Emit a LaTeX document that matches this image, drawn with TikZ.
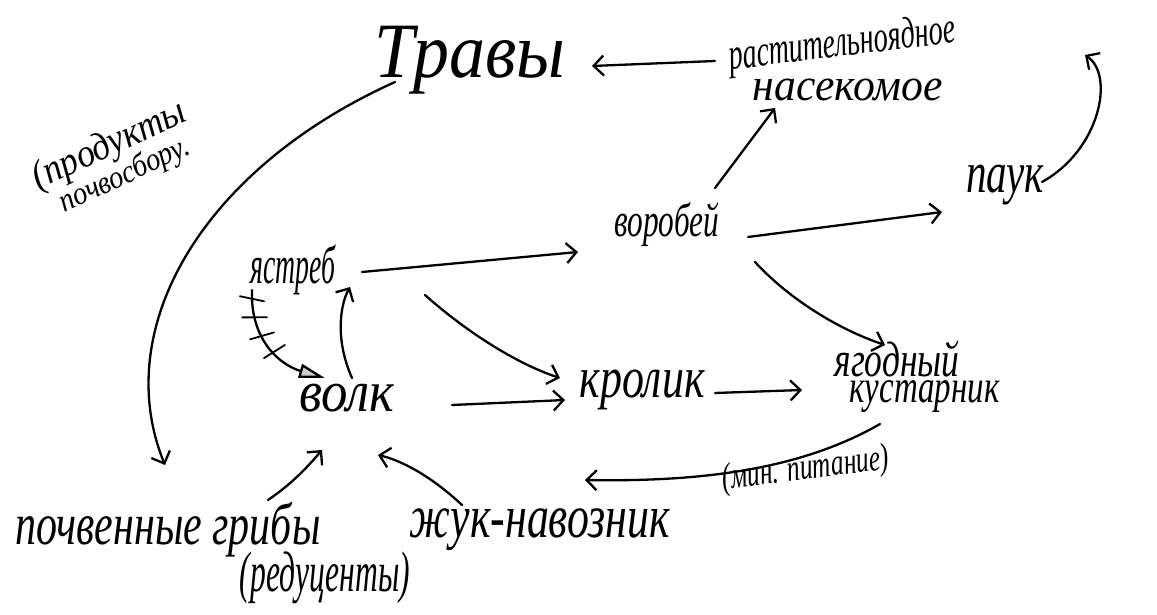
\documentclass[tikz,border=0pt]{standalone}
\usepackage{fontspec}
\setmainfont{Liberation Serif}
\usetikzlibrary{arrows.meta,decorations.markings,calc}
\newcommand{\hw}[3]{\resizebox*{#1}{#2}{\itshape #3}}
\begin{document}
\begin{tikzpicture}[x=1pt,y=-1pt,
  lbl/.style={inner sep=0pt},
  arr/.style={line width=2.3pt,-{Straight Barb[length=10pt,width=20pt]},line cap=round},
  tick/.style={-,line width=1.8pt,line cap=round},
  hatched/.style={line width=2.3pt,line cap=round,
    -{Triangle[length=26pt,width=14pt,fill=gray!40]},
    postaction={decorate},
    decoration={markings,
      mark=at position 0.07 with {\draw[tick] (-3pt,-12pt)--(3pt,12pt);},
      mark=at position 0.22 with {\draw[tick] (-3pt,-12pt)--(3pt,12pt);},
      mark=at position 0.38 with {\draw[tick] (-3pt,-12pt)--(3pt,12pt);},
      mark=at position 0.54 with {\draw[tick] (-3pt,-12pt)--(3pt,12pt);}}},
]
\useasboundingbox (0,0) rectangle (1157,615);
\fill[white] (0,0) rectangle (1157,615);

% nodes
\node[lbl] (trav) at (470,60) {\hw{190pt}{68pt}{Травы}};
\node[lbl] (ins) at (842,58) {\begin{tabular}{@{}c@{}}\rotatebox{7}{\hw{228pt}{40pt}{растительноядное}}\\[0pt]\hspace*{12pt}\hw{190pt}{22pt}{насекомое}\end{tabular}};
\node[lbl] (pauk) at (1005,185) {\hw{78pt}{40pt}{паук}};
\node[lbl] (vor) at (667,225) {\hw{105pt}{44pt}{воробей}};
\node[lbl] (yas) at (293,270) {\hw{85pt}{50pt}{ястреб}};
\node[lbl] (volk) at (347,398) {\hw{95pt}{28pt}{волк}};
\node[lbl] (krol) at (642,390) {\hw{125pt}{40pt}{кролик}};
\node[lbl] (yag) at (917,377) {\begin{tabular}{@{}l@{}}\hw{125pt}{36pt}{ягодный}\\[0pt]\hspace*{15pt}\hw{150pt}{32pt}{кустарник}\end{tabular}};
\node[lbl] (grib) at (168,530) {\hw{305pt}{55pt}{почвенные грибы}};
\node[lbl] (red) at (325,578) {\hw{170pt}{52pt}{(редуценты)}};
\node[lbl] (zhuk) at (540,530) {\hw{260pt}{42pt}{жук-навозник}};
\node[lbl,rotate=7] (min) at (806,470) {\hw{168pt}{34pt}{(мин. питание)}};
\node[lbl,rotate=25] (prod) at (116,160) {\begin{tabular}{@{}l@{}}\hw{165pt}{36pt}{(продукты}\\[5pt]\hspace*{14pt}\hw{140pt}{30pt}{почвосбору.}\end{tabular}};
\coordinate (mnp) at (585,480);

% connectors
\draw[arr] ([shift={(-127,3)}]ins.center) -- ([shift={(122,6)}]trav.center);
\draw[arr] ([shift={(48,-37)}]vor.center) -- ([shift={(-67,50)}]ins.center);
\draw[arr] ([shift={(81,12)}]vor.center) -- ([shift={(-63,27)}]pauk.center);
\draw[arr] ([shift={(88,37)}]vor.center) .. controls (790,300) and (840,330) .. ([shift={(-32,-32)}]yag.center);
\draw[arr] ([shift={(69,2)}]yas.center) -- ([shift={(-89,27)}]vor.center);
\draw[arr] ([shift={(132,25)}]yas.center) .. controls (470,335) and (520,365) .. ([shift={(-82,-12)}]krol.center);
\draw[hatched] ([shift={(-41,20)}]yas.center) .. controls (250,340) and (280,365) .. ([shift={(-22,-20)}]volk.center);
\draw[arr] ([shift={(5,-20)}]volk.center) .. controls (335,340) and (340,305) .. ([shift={(57,17)}]yas.center);
\draw[arr] ([shift={(105,7)}]volk.center) -- ([shift={(-77,10)}]krol.center);
\draw[arr] ([shift={(73,3)}]krol.center) -- ([shift={(-115,13)}]yag.center);
\draw[arr] ([shift={(-37,47)}]yag.center) .. controls (800,470) and (700,482) .. (mnp);
\draw[arr] ([shift={(100,-30)}]grib.center) .. controls (290,485) and (305,470) .. ([shift={(-25,52)}]volk.center);
\draw[arr] ([shift={(-78,-25)}]zhuk.center) .. controls (430,475) and (400,460) .. ([shift={(31,57)}]volk.center);
\draw[arr] ([shift={(37,-3)}]pauk.center) .. controls (1100,150) and (1115,75) .. ([shift={(243,-3)}]ins.center);
\draw[arr] ([shift={(-75,22)}]trav.center) .. controls (200,170) and (110,330) .. ([shift={(-3,-65)}]grib.center);
\end{tikzpicture}
\end{document}
